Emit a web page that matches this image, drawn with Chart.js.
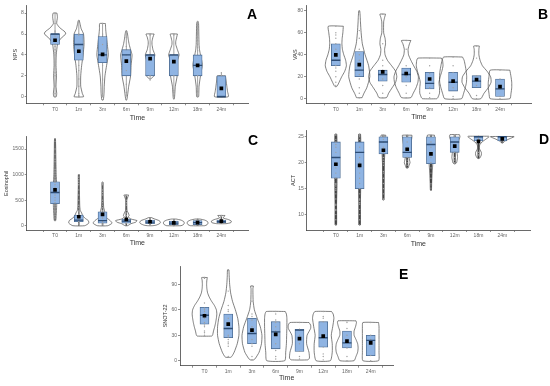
<!DOCTYPE html>
<html>
<head>
<meta charset="utf-8">
<script src="https://cdn.jsdelivr.net/npm/chart.js@4.4.1/dist/chart.umd.min.js"></script>
<style>
  body { margin: 0; background: #fff; width: 550px; height: 386px; position: relative; overflow: hidden; font-family: "Liberation Sans", Arial, sans-serif; }
  canvas { position: absolute; }
  .tag { position: absolute; font-weight: bold; font-size: 14px; line-height: 14px; color: #000; }
</style>
</head>
<body>
<canvas id="chartA" width="275" height="125" style="left:0;top:0"></canvas>
<canvas id="chartB" width="275" height="125" style="left:275px;top:0"></canvas>
<canvas id="chartC" width="275" height="125" style="left:0;top:125px"></canvas>
<canvas id="chartD" width="275" height="125" style="left:275px;top:125px"></canvas>
<canvas id="chartE" width="290" height="136" style="left:130px;top:250px"></canvas>
<div class="tag" style="left:247px;top:7px">A</div>
<div class="tag" style="left:538px;top:7px">B</div>
<div class="tag" style="left:248px;top:133px">C</div>
<div class="tag" style="left:539px;top:132px">D</div>
<div class="tag" style="left:399px;top:267px">E</div>
<script>
const timeLabels = ["T0", "1m", "3m", "6m", "9m", "12m", "18m", "24m"];

// A - NPS
const npsTicks = [0, 2, 4, 6, 8];
const npsQ1 = [5, 3.5, 3.25, 2, 2, 2, 2, 0];
const npsQ3 = [6, 6, 5.75, 4.5, 4, 4, 4, 2];
const npsMedian = [6, 5, 4, 4, 4, 4, 3, 0];
const npsMean = [5.4, 4.35, 4.05, 3.4, 3.65, 3.35, 3.0, 0.8];
const npsLow = [0, 0, 0, 0, 1.7, 0, 0, 0];
const npsHigh = [8, 7.3, 7, 6.3, 6, 6, 7.2, 2.3];
const npsViolinY = [
  [8, 7.6, 7, 6.6, 6.2, 6, 5.7, 5.3, 5, 4, 3, 2, 1, 0.3, 0],
  [7.3, 7, 6.5, 6, 5, 4, 3, 2, 1, 0.3, 0],
  [7, 6.5, 6, 5, 4, 3, 2, 1, 0.3, -0.3],
  [6.3, 6, 5.5, 5, 4.5, 4, 3, 2, 1, 0.3, -0.3],
  [6, 5.7, 5.3, 5, 4.5, 4, 3.5, 3, 2.5, 2, 1.7],
  [6, 5.7, 5.3, 5, 4.5, 4, 3.5, 3, 2.5, 2, 1, 0.3, -0.2],
  [7.2, 7, 6, 5, 4.5, 4, 3.5, 3, 2.5, 2, 1, 0.3, 0],
  [2, 1.5, 1, 0.5, 0]
];
const npsViolinW = [
  [0.08, 0.1, 0.07, 0.2, 0.42, 0.45, 0.3, 0.15, 0.1, 0.05, 0.04, 0.06, 0.04, 0.07, 0.05],
  [0.02, 0.05, 0.1, 0.2, 0.22, 0.18, 0.12, 0.08, 0.08, 0.15, 0.2],
  [0.12, 0.13, 0.15, 0.2, 0.24, 0.17, 0.1, 0.07, 0.06, 0.03],
  [0.02, 0.05, 0.08, 0.12, 0.18, 0.24, 0.2, 0.18, 0.1, 0.06, 0.02],
  [0.17, 0.12, 0.08, 0.08, 0.12, 0.2, 0.15, 0.1, 0.12, 0.16, 0.02],
  [0.15, 0.12, 0.08, 0.08, 0.15, 0.22, 0.15, 0.1, 0.12, 0.14, 0.06, 0.04, 0.02],
  [0.02, 0.04, 0.05, 0.06, 0.08, 0.12, 0.17, 0.2, 0.16, 0.12, 0.06, 0.05, 0.04],
  [0.17, 0.2, 0.23, 0.26, 0.29]
];
const npsPoints = [
  [8, 7, 6.3, 6.2, 6, 5.8, 5.5, 5, 4.8, 4.5, 4.2, 4, 3, 2.3, 2, 1, 0.3, 0],
  [7.3, 6, 5.9, 5, 4.5, 3, 2.5, 1.7, 1, 0.3, 0.1, 0],
  [7, 6, 5.9, 5, 3, 1.7, 1.6, 0.3, 0, -0.3],
  [6.3, 5.7, 4.8, 4, 2.5, 1.2, 0.4, -0.3],
  [6, 5.9, 4, 2, 1.6],
  [6, 5.9, 4, 2, 0.6, 0.4, -0.2],
  [7.2, 7, 6.8, 6.5, 6.2, 6, 5.7, 5.4, 5, 4.7, 4.4, 2, 1, 0.5, 0],
  [2.3, 2, 0, 0]
];

// B - VAS
const vasTicks = [0, 20, 40, 60, 80];
const vasQ1 = [30, 20, 16, 15, 9, 7, 10, 2];
const vasQ3 = [50, 43, 26, 28, 24, 24, 21, 18];
const vasMedian = [35, 26, 22, 22, 14, 15, 16, 9];
const vasMean = [40, 31, 24.5, 23, 18, 16, 17.5, 11];
const vasViolinY = [
  [66, 60, 55, 50, 45, 40, 35, 30, 25, 20, 15, 12, 11],
  [80, 75, 70, 60, 50, 40, 30, 20, 10, 5, 2, 1],
  [77, 74, 70, 60, 55, 50, 45, 40, 35, 30, 25, 20, 15, 10, 5, 1],
  [53, 50, 45, 40, 35, 30, 25, 20, 15, 10, 5, 1],
  [37, 35, 30, 25, 20, 15, 10, 5, 1, 0],
  [38, 35, 30, 25, 20, 15, 10, 5, 0],
  [48, 45, 40, 35, 30, 25, 20, 15, 10, 5, 0],
  [26, 20, 15, 10, 5, 0]
];
const vasViolinW = [
  [0.32, 0.3, 0.27, 0.26, 0.28, 0.34, 0.42, 0.45, 0.38, 0.25, 0.14, 0.07, 0.03],
  [0.02, 0.04, 0.05, 0.08, 0.13, 0.25, 0.4, 0.45, 0.32, 0.2, 0.14, 0.12],
  [0.12, 0.08, 0.04, 0.04, 0.1, 0.12, 0.08, 0.1, 0.2, 0.38, 0.55, 0.6, 0.55, 0.4, 0.25, 0.16],
  [0.2, 0.14, 0.08, 0.1, 0.2, 0.32, 0.45, 0.52, 0.5, 0.42, 0.3, 0.2],
  [0.5, 0.55, 0.57, 0.52, 0.45, 0.4, 0.42, 0.42, 0.35, 0.3],
  [0.4, 0.47, 0.52, 0.56, 0.58, 0.57, 0.52, 0.45, 0.36],
  [0.12, 0.1, 0.1, 0.15, 0.25, 0.45, 0.6, 0.62, 0.5, 0.32, 0.18],
  [0.42, 0.47, 0.5, 0.5, 0.47, 0.42]
];
const vasPoints = [
  [66, 60, 58, 55, 50, 45, 40, 35, 30, 28, 25, 20, 15, 12],
  [80, 62, 55, 45, 40, 35, 30, 26, 22, 18, 10, 5, 1, 1],
  [77, 50, 35, 30, 26, 22, 18, 12, 5, 1],
  [53, 45, 30, 25, 20, 12, 5, 1],
  [37, 30, 23, 18, 14, 10, 5, 1],
  [38, 30, 24, 15, 10, 2, 0],
  [48, 37, 21, 18, 16, 12, 3, 0],
  [26, 18, 9, 2, 0]
];

// C - Eosinophil
const eosTicks = [0, 500, 1000, 1500];
const eosQ1 = [430, 80, 50, 50, 40, 20, 20, 60];
const eosQ3 = [860, 210, 270, 130, 110, 90, 100, 110];
const eosMedian = [650, 110, 100, 90, 70, 50, 60, 80];
const eosMean = [700, 175, 222, 124, 78, 57, 60, 90];
const eosLow = [100, 0, 0, 0, 20, 0, 0, 40];
const eosHigh = [1700, 1000, 850, 600, 150, 130, 130, 200];
const eosViolinY = [
  [1700, 1500, 1200, 1000, 800, 600, 400, 200, 100],
  [1000, 800, 600, 400, 300, 250, 200, 150, 100, 50, 0],
  [850, 700, 500, 350, 300, 250, 200, 150, 100, 50, 0],
  [600, 580, 500, 400, 300, 250, 200, 170, 130, 100, 70, 40, 0],
  [160, 130, 100, 70, 40, 10, 0],
  [130, 110, 80, 50, 20, 0],
  [130, 110, 80, 50, 20, 0],
  [200, 180, 150, 120, 90, 60, 40]
];
const eosViolinW = [
  [0.02, 0.03, 0.04, 0.05, 0.07, 0.08, 0.07, 0.05, 0.03],
  [0.02, 0.02, 0.03, 0.04, 0.06, 0.12, 0.16, 0.25, 0.4, 0.42, 0.25],
  [0.02, 0.02, 0.03, 0.05, 0.08, 0.1, 0.12, 0.18, 0.32, 0.4, 0.22],
  [0.1, 0.08, 0.02, 0.02, 0.03, 0.08, 0.12, 0.08, 0.2, 0.45, 0.4, 0.2, 0.05],
  [0.05, 0.2, 0.38, 0.44, 0.4, 0.25, 0.1],
  [0.1, 0.3, 0.42, 0.44, 0.4, 0.3],
  [0.1, 0.3, 0.42, 0.44, 0.4, 0.3],
  [0.15, 0.12, 0.08, 0.3, 0.42, 0.4, 0.2]
];
const eosPoints = [
  [1700, 1650, 1500, 1400, 1300, 1250, 1100, 1050, 1000, 950, 900, 880, 850, 800, 750, 700, 650, 600, 550, 500, 450, 400, 350, 300, 280, 250, 200, 150, 100],
  [1000, 950, 900, 850, 800, 700, 600, 500, 400, 350, 300, 280, 250, 220, 200, 180, 150, 120, 100, 80, 50, 30],
  [850, 820, 800, 700, 650, 600, 500, 450, 400, 350, 300, 270, 250, 200, 150, 100, 80, 50, 20],
  [600, 590, 500, 450, 400, 300, 250, 200, 150, 120, 100, 70, 50],
  [150, 130, 100, 80, 60, 40, 20],
  [120, 100, 80, 60, 40, 20, 0],
  [130, 100, 80, 60, 40, 20],
  [200, 180, 120, 100, 80, 60]
];

// D - ACT
const actTicks = [10, 15, 20, 25];
const actQ1 = [17, 15, 21.7, 21, 19.8, 22, 24.2, 24.2];
const actQ3 = [24, 24, 25, 25, 25, 25, 25, 25];
const actMedian = [21, 22, 24, 22, 23.5, 24, 25, 25];
const actMean = [19.7, 19.5, 22.4, 22.6, 21.7, 23.2, 24.1, 24.6];
const actLow = [8, 8, 12.8, 19, 14.7, 19.8, 20.8, 23.8];
const actHigh = [25.5, 25.5, 25.3, 25.3, 25.3, 25.3, 25, 25];
const actViolinY = [
  [25.5, 24, 20, 16, 12, 8],
  [25.5, 24, 20, 16, 12, 8],
  [25.3, 24, 22, 20, 18, 15, 12.8],
  [25.3, 25, 23, 22, 21, 20.5, 20, 19.5, 19],
  [25.3, 24, 22, 20, 18, 16, 14.7],
  [25.4, 25, 24, 22, 21, 20.5, 20, 19.8],
  [25.1, 25, 24.5, 24, 23.5, 23, 22.5, 22, 21.5, 21, 20.8],
  [25.05, 25, 24.6, 24.2, 24, 23.8]
];
const actViolinW = [
  [0.04, 0.05, 0.05, 0.05, 0.03, 0.03],
  [0.04, 0.05, 0.05, 0.05, 0.03, 0.03],
  [0.1, 0.08, 0.06, 0.04, 0.03, 0.02, 0.01],
  [0.2, 0.2, 0.14, 0.12, 0.08, 0.1, 0.12, 0.08, 0.04],
  [0.15, 0.12, 0.1, 0.08, 0.05, 0.03, 0.02],
  [0.2, 0.22, 0.15, 0.1, 0.12, 0.1, 0.08, 0.02],
  [0.42, 0.45, 0.3, 0.15, 0.06, 0.03, 0.06, 0.12, 0.12, 0.07, 0.02],
  [0.48, 0.5, 0.3, 0.12, 0.06, 0.02]
];
const actPoints = [
  [25.5, 25.3, 24.5, 24, 23.5, 23, 22, 21, 20, 19, 18, 17, 16, 15.8, 15.5, 15, 14.7, 14, 13, 12, 11.8, 11, 10.8, 10, 9, 8],
  [25.5, 25.3, 25, 24.5, 23, 22, 21, 20, 19, 18, 17, 16, 15, 14, 13, 12.8, 12.3, 12, 11, 10, 9, 8],
  [25.3, 25, 24.5, 24, 23, 22, 21, 20.5, 20, 19.5, 18.3, 18, 17, 16, 15, 14, 13, 12.8],
  [25.3, 25, 24, 23, 22, 21, 20.5, 20, 19.5, 19],
  [25.3, 25, 24, 23, 22, 21, 20, 19, 18, 17, 16, 15.7, 15.3, 15, 14.7],
  [25.4, 25.2, 25, 24, 23, 22, 21, 20.5, 20, 19.8],
  [25.1, 25, 24.7, 24.5, 24, 22, 21.5],
  [25, 24.8, 24.5, 24.2, 23.8]
];

// E - SNOT-22
const snotTicks = [0, 30, 60, 90];
const snotQ1 = [43, 27, 20, 14, 11, 16, 15, 6];
const snotQ3 = [63, 55, 50, 46, 37, 46, 35, 30];
const snotMedian = [53.5, 38, 32, 34, 36, 27, 21, 24];
const snotMean = [53, 43, 36, 31, 26, 29, 23, 21];
const snotViolinY = [
  [98, 95, 90, 85, 80, 75, 70, 65, 60, 55, 50, 45, 40, 35, 30, 29],
  [107, 100, 90, 80, 70, 60, 50, 40, 30, 20, 10, 5, 4],
  [88, 85, 80, 70, 60, 50, 40, 30, 20, 10, 3, 1],
  [58, 55, 50, 40, 30, 20, 10, 0],
  [45, 42, 38, 30, 20, 10, 3, 1],
  [58, 55, 50, 40, 30, 20, 10, 0],
  [47, 45, 40, 35, 30, 25, 20, 15, 10, 5, 0],
  [45, 40, 30, 20, 10, 0]
];
const snotViolinW = [
  [0.12, 0.1, 0.09, 0.1, 0.13, 0.2, 0.3, 0.42, 0.5, 0.52, 0.5, 0.47, 0.43, 0.38, 0.34, 0.3],
  [0.03, 0.04, 0.06, 0.1, 0.18, 0.3, 0.4, 0.45, 0.45, 0.38, 0.25, 0.15, 0.1],
  [0.06, 0.04, 0.04, 0.05, 0.1, 0.22, 0.35, 0.42, 0.4, 0.3, 0.15, 0.08],
  [0.4, 0.45, 0.47, 0.47, 0.46, 0.45, 0.42, 0.38],
  [0.4, 0.47, 0.47, 0.32, 0.3, 0.4, 0.42, 0.35],
  [0.35, 0.42, 0.45, 0.4, 0.34, 0.38, 0.38, 0.3],
  [0.38, 0.4, 0.36, 0.3, 0.3, 0.38, 0.45, 0.47, 0.45, 0.38, 0.3],
  [0.33, 0.35, 0.35, 0.35, 0.35, 0.33]
];
const snotPoints = [
  [98, 97, 68, 62, 60, 58, 55, 52, 50, 45, 42, 40, 35, 33, 30, 29],
  [107, 82, 65, 60, 58, 50, 45, 38, 30, 28, 25, 22, 20, 17, 5],
  [88, 70, 55, 52, 48, 40, 32, 25, 20, 17, 5, 1],
  [58, 55, 48, 45, 40, 35, 30, 20, 12, 5, 2],
  [45, 37, 36, 30, 20, 11, 5, 2],
  [58, 52, 50, 46, 30, 27, 16, 8, 5, 1],
  [47, 45, 38, 30, 21, 15, 5, 0],
  [45, 30, 25, 20, 6, 0]
];

function makePanel(id, p) {
  const datasets = [];

  // violin outlines
  p.violinY.forEach((ys, i) => {
    const ws = p.violinW[i];
    const right = ys.map((y, k) => ({ x: i + ws[k], y: y }));
    const left = ys.map((y, k) => ({ x: i - ws[k], y: y })).reverse();
    datasets.push({
      data: right.concat(left, [right[0]]),
      showLine: true, fill: false, tension: 0.18,
      borderColor: "#4a4a4a", borderWidth: 0.7,
      pointRadius: 0, order: 5
    });
  });

  if (p.low) {
    p.low.forEach((lo, i) => {
      datasets.push({
        data: [{ x: i, y: lo }, { x: i, y: p.high[i] }],
        showLine: true, fill: false,
        borderColor: p.whiskerColor, borderWidth: p.whiskerWidth,
        pointRadius: 0, order: 4
      });
    });
  }

  datasets.push({
    type: "bar",
    data: p.q1.map((q, i) => ({ x: i, y: [q, p.q3[i]] })),
    backgroundColor: "#8fb4e3", borderColor: "#48688f", borderWidth: 0.8,
    borderSkipped: false, barThickness: 9, grouped: false, order: 3
  });

  const pts = [];
  p.points.forEach((vals, i) => vals.forEach(v => pts.push({ x: i, y: v })));
  datasets.push({
    data: pts, pointRadius: 0.7, pointBackgroundColor: "#a0a0a0",
    pointBorderWidth: 0, order: 2
  });

  datasets.push({
    data: p.median.map((m, i) => ({ x: i, y: m })),
    pointStyle: "line", pointRadius: 4.5, pointBorderColor: "#2d4c74",
    pointBorderWidth: 1.4, order: 1
  });

  datasets.push({
    data: p.mean.map((m, i) => ({ x: i, y: m })),
    pointStyle: "rect", pointRadius: 2.6, pointBackgroundColor: "#000",
    pointBorderWidth: 0, order: 0
  });

  new Chart(document.getElementById(id), {
    type: "scatter",
    data: { datasets: datasets },
    options: {
      responsive: false,
      animation: false,
      layout: { padding: { left: 0, top: p.top, right: p.right, bottom: 0 } },
      plugins: { legend: { display: false }, tooltip: { enabled: false } },
      scales: {
        x: {
          type: "linear", min: p.xMin, max: p.xMax,
          afterBuildTicks: s => { s.ticks = timeLabels.map((_, i) => ({ value: i })); },
          afterFit: s => { s.height = p.xH; },
          ticks: { callback: v => timeLabels[v], font: { size: 5 }, color: "#666", padding: 1, maxRotation: 0, autoSkip: false },
          grid: { drawOnChartArea: false, tickLength: 2, color: "#444", tickWidth: 0.6 },
          border: { color: "#444", width: 0.8 },
          title: { display: true, text: "Time", font: { size: 7 }, color: "#333", padding: { top: 0, bottom: p.xTitlePad } }
        },
        y: {
          type: "linear", min: p.yMin, max: p.yMax,
          afterBuildTicks: s => { s.ticks = p.yTicks.map(v => ({ value: v })); },
          afterFit: s => { s.width = p.yW; },
          ticks: { callback: v => String(v), font: { size: 5 }, color: "#666", padding: 1 },
          grid: { drawOnChartArea: false, tickLength: 2, color: "#444", tickWidth: 0.6 },
          border: { color: "#444", width: 0.8 },
          title: { display: true, text: p.yTitle, font: { size: 5.5 }, color: "#333", padding: { top: p.yTitlePad, bottom: 0 } }
        }
      }
    }
  });
}

makePanel("chartA", {
  yTitle: "NPS", yTicks: npsTicks, q1: npsQ1, q3: npsQ3, median: npsMedian, mean: npsMean,
  low: npsLow, high: npsHigh, violinY: npsViolinY, violinW: npsViolinW, points: npsPoints,
  whiskerColor: "#8a8a8a", whiskerWidth: 0.8,
  xMin: -0.61, xMax: 7.55, yMin: -0.63, yMax: 8.69,
  yW: 26.7, xH: 21.7, top: 5, right: 26.7, yTitlePad: 11.7, xTitlePad: 3
});

makePanel("chartB", {
  yTitle: "VAS", yTicks: vasTicks, q1: vasQ1, q3: vasQ3, median: vasMedian, mean: vasMean,
  violinY: vasViolinY, violinW: vasViolinW, points: vasPoints,
  xMin: -0.67, xMax: 7.75, yMin: -4.15, yMax: 84.5,
  yW: 31, xH: 21.7, top: 5, right: 18.3, yTitlePad: 16.7, xTitlePad: 3.4
});

makePanel("chartC", {
  yTitle: "Eosinophil", yTicks: eosTicks, q1: eosQ1, q3: eosQ3, median: eosMedian, mean: eosMean,
  low: eosLow, high: eosHigh, violinY: eosViolinY, violinW: eosViolinW, points: eosPoints,
  whiskerColor: "#5a5a5a", whiskerWidth: 1.5,
  xMin: -0.61, xMax: 7.54, yMin: -84, yMax: 1741,
  yW: 26.7, xH: 20, top: 11.7, right: 27, yTitlePad: 3.4, xTitlePad: 3
});

makePanel("chartD", {
  yTitle: "ACT", yTicks: actTicks, q1: actQ1, q3: actQ3, median: actMedian, mean: actMean,
  low: actLow, high: actHigh, violinY: actViolinY, violinW: actViolinW, points: actPoints,
  whiskerColor: "#444", whiskerWidth: 2,
  xMin: -0.64, xMax: 7.58, yMin: 7.03, yMax: 26.13,
  yW: 31.7, xH: 20, top: 4, right: 20, yTitlePad: 15, xTitlePad: 1.7
});

makePanel("chartE", {
  yTitle: "SNOT-22", yTicks: snotTicks, q1: snotQ1, q3: snotQ3, median: snotMedian, mean: snotMean,
  violinY: snotViolinY, violinW: snotViolinW, points: snotPoints,
  xMin: -0.47, xMax: 7.39, yMin: -5.9, yMax: 111.6,
  yW: 50, xH: 20.3, top: 16, right: 26.7, yTitlePad: 32.4, xTitlePad: 3.5
});
</script>
</body>
</html>
